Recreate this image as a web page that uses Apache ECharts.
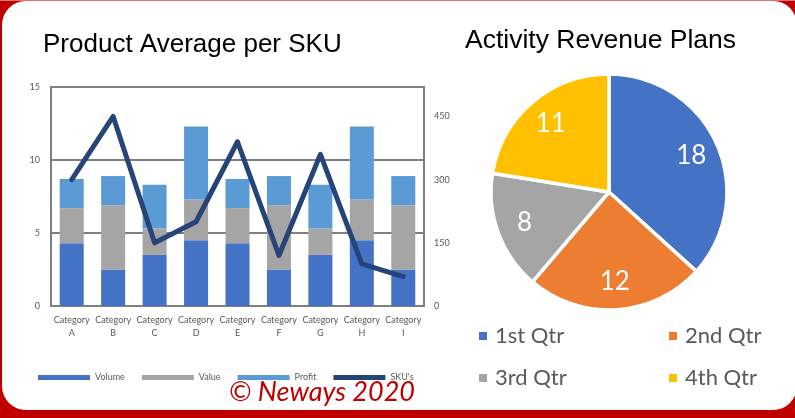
<!DOCTYPE html>
<html><head><meta charset="utf-8">
<script src="https://cdn.jsdelivr.net/npm/echarts@6/dist/echarts.min.js"></script>
<style>
html,body{margin:0;padding:0;background:#fff;}
#wrap{position:relative;width:795px;height:418px;background:#c00000;overflow:hidden;}
#topline{position:absolute;left:0;top:0;width:795px;height:1px;background:#e07575;}
#card{position:absolute;left:2px;top:1px;width:795px;height:409px;background:#fff;border-radius:24px;}
#chart{position:absolute;left:0;top:0;width:795px;height:418px;}
</style></head>
<body><div id="wrap"><div id="topline"></div><div id="card"></div><div id="chart"></div></div>
<script>
// ---- data ----
const categories = ['Category\nA','Category\nB','Category\nC','Category\nD','Category\nE','Category\nF','Category\nG','Category\nH','Category\nI'];
const volume = [4.3, 2.5, 3.5, 4.5, 4.3, 2.5, 3.5, 4.5, 2.5];
const value  = [2.4, 4.4, 1.8, 2.8, 2.4, 4.4, 1.8, 2.8, 4.4];
const profit = [2, 2, 3, 5, 2, 2, 3, 5, 2];
const skus   = [300, 450, 150, 200, 390, 120, 360, 100, 70];
const leftAxis  = { min: 0, max: 15, interval: 5 };
const rightAxis = { min: 0, max: 520, interval: 150 };
const quarters = ['1st Qtr', '2nd Qtr', '3rd Qtr', '4th Qtr'];
const revenue  = [18, 12, 8, 11];

const grey = '#595959';
const barFont = 'Lato, "Open Sans", sans-serif';
const pieColors = ['#4472c4', '#ed7d31', '#a5a5a5', '#ffc000'];
const pieData = quarters.map((q, i) => ({ name: q, value: revenue[i], itemStyle: { color: pieColors[i] } }));
const pieCenter = [609, 192];

const chart = echarts.init(document.getElementById('chart'), null, { renderer: 'canvas' });
chart.setOption({
  animation: false,
  backgroundColor: 'transparent',
  title: [
    { text: 'Product Average per SKU', left: 38, top: 27,
      textStyle: { fontFamily: '"Liberation Sans", Arial, sans-serif', fontSize: 26, fontWeight: 'normal', color: '#000' } },
    { text: 'Activity Revenue Plans', left: 460, top: 22,
      textStyle: { fontFamily: '"Liberation Sans", Arial, sans-serif', fontSize: 26.5, fontWeight: 'normal', color: '#000' } }
  ],
  legend: [
    { data: ['Volume', 'Value', 'Profit', { name: "SKU's", lineStyle: { width: 3 } }],
      left: 33, top: 368, itemWidth: 52, itemHeight: 5, itemGap: 17,
      icon: 'rect',
      textStyle: { color: grey, fontSize: 9, fontFamily: barFont } },
    { data: ['1st Qtr', '3rd Qtr'], orient: 'vertical', left: 472, top: 320,
      itemWidth: 10, itemHeight: 10, itemGap: 20, icon: 'rect',
      textStyle: { color: grey, fontSize: 22, fontFamily: barFont, padding: [0, 0, 0, 2] } },
    { data: ['2nd Qtr', '4th Qtr'], orient: 'vertical', left: 662, top: 320,
      itemWidth: 10, itemHeight: 10, itemGap: 20, icon: 'rect',
      textStyle: { color: grey, fontSize: 22, fontFamily: barFont, padding: [0, 0, 0, 2] } }
  ],
  grid: { left: 51, right: 371, top: 87, bottom: 112, show: true, borderColor: '#7f7f7f', borderWidth: 2, containLabel: false },
  xAxis: {
    type: 'category', data: categories,
    axisLine: { show: true, lineStyle: { color: '#7f7f7f', width: 2 } },
    axisTick: { show: false },
    axisLabel: { color: grey, fontSize: 9, fontFamily: barFont, lineHeight: 13, margin: 8, interval: 0 }
  },
  yAxis: [
    { type: 'value', min: leftAxis.min, max: leftAxis.max, interval: leftAxis.interval,
      axisLine: { show: false }, axisTick: { show: false },
      splitLine: { show: true, lineStyle: { color: '#7f7f7f', width: 2 } },
      axisLabel: { color: grey, fontSize: 9, fontFamily: barFont, margin: 11 } },
    { type: 'value', min: rightAxis.min, max: rightAxis.max, interval: rightAxis.interval,
      axisLine: { show: false }, axisTick: { show: false }, splitLine: { show: false },
      axisLabel: { color: grey, fontSize: 9, fontFamily: barFont, margin: 10, showMaxLabel: false } }
  ],
  series: [
    { name: 'Volume', type: 'bar', stack: 'a', data: volume, barWidth: 24, itemStyle: { color: '#4472c4' } },
    { name: 'Value', type: 'bar', stack: 'a', data: value, barWidth: 24, itemStyle: { color: '#a5a5a5' } },
    { name: 'Profit', type: 'bar', stack: 'a', data: profit, barWidth: 24, itemStyle: { color: '#5b9bd5' } },
    { name: "SKU's", type: 'line', yAxisIndex: 1, data: skus, symbol: 'none', z: 5,
      lineStyle: { color: '#264478', width: 5, join: 'round', cap: 'round' }, itemStyle: { color: '#264478' } },
    { name: 'Revenue', type: 'pie', center: pieCenter, radius: [0, 118], startAngle: 90, clockwise: true,
      data: pieData, label: { show: false }, labelLine: { show: false },
      itemStyle: { borderColor: '#fff', borderWidth: 3.5 } },
    { name: 'RevenueLabels', type: 'pie', center: pieCenter, radius: [56, 118], startAngle: 90, clockwise: true,
      silent: true, z: 10,
      data: quarters.map((q, i) => ({ name: q, value: revenue[i], itemStyle: { color: 'rgba(0,0,0,0)' } })),
      label: { show: true, position: 'inside', formatter: '{c}', color: '#fff', fontSize: 26, fontFamily: barFont },
      labelLine: { show: false }, itemStyle: { borderWidth: 0 } }
  ],
  graphic: [
    { type: 'text', left: 229, top: 379, silent: true,
      style: { text: '\u00a9 Neways 2020', fill: '#c00000', font: 'italic 27px Lato, "Open Sans", sans-serif' } }
  ]
});
</script></body></html>
